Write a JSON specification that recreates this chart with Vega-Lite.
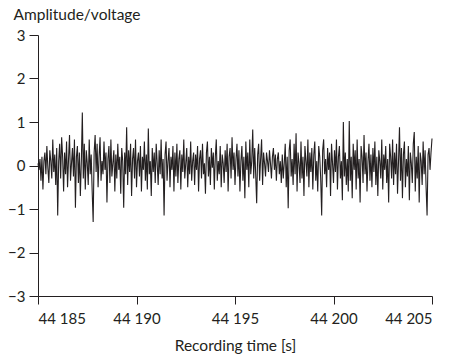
{
"$schema": "https://vega.github.io/schema/vega-lite/v6.json",
"width": 394,
"height": 261,
"autosize": "none",
"padding": {"left": 38, "top": 35, "right": 24, "bottom": 58},
"config": {
  "view": {"stroke": null},
  "font": "Lato",
  "axis": {"labelFont": "Lato", "titleFont": "Lato", "labelFontSize": 15, "titleFontSize": 15.5, "labelColor": "#231f20", "titleColor": "#231f20", "domainColor": "#231f20", "tickColor": "#231f20", "grid": false, "titleFontWeight": "normal"}
},
"data": {"values": [
{"t":44185.00,"v":0.05},{"t":44185.05,"v":-0.1},{"t":44185.10,"v":0.15},{"t":44185.15,"v":-0.35},{"t":44185.20,"v":0.2},{"t":44185.25,"v":-0.55},{"t":44185.30,"v":0.1},{"t":44185.35,"v":0.3},{"t":44185.40,"v":-0.2},{"t":44185.45,"v":0.45},{"t":44185.50,"v":-0.05},{"t":44185.55,"v":-0.4},{"t":44185.60,"v":0.35},{"t":44185.65,"v":0.1},{"t":44185.70,"v":-0.3},{"t":44185.75,"v":0.6},{"t":44185.80,"v":-0.15},{"t":44185.85,"v":0.25},{"t":44185.90,"v":-0.45},{"t":44185.95,"v":0.4},
{"t":44186.00,"v":-1.15},{"t":44186.05,"v":0.1},{"t":44186.10,"v":0.5},{"t":44186.15,"v":-0.3},{"t":44186.20,"v":0.65},{"t":44186.25,"v":0.2},{"t":44186.30,"v":-0.6},{"t":44186.35,"v":0.3},{"t":44186.40,"v":-0.2},{"t":44186.45,"v":0.55},{"t":44186.50,"v":-0.5},{"t":44186.55,"v":0.15},{"t":44186.60,"v":0.7},{"t":44186.65,"v":-0.35},{"t":44186.70,"v":0.05},{"t":44186.75,"v":0.4},{"t":44186.80,"v":-0.25},{"t":44186.85,"v":0.6},{"t":44186.90,"v":-0.97},{"t":44186.95,"v":0.2},
{"t":44187.00,"v":0.45},{"t":44187.05,"v":-0.4},{"t":44187.10,"v":0.3},{"t":44187.15,"v":-0.7},{"t":44187.20,"v":0.1},{"t":44187.25,"v":1.22},{"t":44187.30,"v":-0.3},{"t":44187.35,"v":0.5},{"t":44187.40,"v":-0.55},{"t":44187.45,"v":0.35},{"t":44187.50,"v":0.05},{"t":44187.55,"v":-0.45},{"t":44187.60,"v":0.6},{"t":44187.65,"v":-0.2},{"t":44187.70,"v":0.25},{"t":44187.75,"v":-0.6},{"t":44187.80,"v":-1.3},{"t":44187.85,"v":0.3},{"t":44187.90,"v":0.7},{"t":44187.95,"v":-0.15},
{"t":44188.00,"v":0.5},{"t":44188.05,"v":-0.5},{"t":44188.10,"v":0.2},{"t":44188.15,"v":0.65},{"t":44188.20,"v":-0.35},{"t":44188.25,"v":0.1},{"t":44188.30,"v":-0.2},{"t":44188.35,"v":0.55},{"t":44188.40,"v":-0.1},{"t":44188.45,"v":0.3},{"t":44188.50,"v":-0.85},{"t":44188.55,"v":0.15},{"t":44188.60,"v":0.45},{"t":44188.65,"v":-0.4},{"t":44188.70,"v":0.6},{"t":44188.75,"v":-0.25},{"t":44188.80,"v":0.05},{"t":44188.85,"v":0.35},{"t":44188.90,"v":-0.6},{"t":44188.95,"v":0.25},
{"t":44189.00,"v":-0.3},{"t":44189.05,"v":0.5},{"t":44189.10,"v":-0.1},{"t":44189.15,"v":0.2},{"t":44189.20,"v":-0.65},{"t":44189.25,"v":0.4},{"t":44189.30,"v":0.1},{"t":44189.35,"v":-0.97},{"t":44189.40,"v":0.3},{"t":44189.45,"v":-0.2},{"t":44189.50,"v":0.88},{"t":44189.55,"v":-0.45},{"t":44189.60,"v":0.35},{"t":44189.65,"v":-0.15},{"t":44189.70,"v":0.5},{"t":44189.75,"v":-0.7},{"t":44189.80,"v":0.15},{"t":44189.85,"v":0.4},{"t":44189.90,"v":-0.3},{"t":44189.95,"v":0.6},
{"t":44190.00,"v":-0.5},{"t":44190.05,"v":0.1},{"t":44190.10,"v":0.3},{"t":44190.15,"v":-0.25},{"t":44190.20,"v":0.45},{"t":44190.25,"v":-0.6},{"t":44190.30,"v":0.2},{"t":44190.35,"v":-0.1},{"t":44190.40,"v":0.55},{"t":44190.45,"v":-0.35},{"t":44190.50,"v":0.25},{"t":44190.55,"v":-0.55},{"t":44190.60,"v":0.85},{"t":44190.65,"v":-0.2},{"t":44190.70,"v":0.1},{"t":44190.75,"v":-0.7},{"t":44190.80,"v":0.4},{"t":44190.85,"v":-0.15},{"t":44190.90,"v":0.3},{"t":44190.95,"v":-0.4},
{"t":44191.00,"v":0.5},{"t":44191.05,"v":0.05},{"t":44191.10,"v":-0.45},{"t":44191.15,"v":0.35},{"t":44191.20,"v":-0.2},{"t":44191.25,"v":0.6},{"t":44191.30,"v":-0.3},{"t":44191.35,"v":0.15},{"t":44191.40,"v":-1.15},{"t":44191.45,"v":0.25},{"t":44191.50,"v":0.55},{"t":44191.55,"v":-0.35},{"t":44191.60,"v":0.1},{"t":44191.65,"v":0.4},{"t":44191.70,"v":-0.5},{"t":44191.75,"v":0.2},{"t":44191.80,"v":-0.1},{"t":44191.85,"v":0.45},{"t":44191.90,"v":-0.6},{"t":44191.95,"v":0.3},
{"t":44192.00,"v":-0.25},{"t":44192.05,"v":0.5},{"t":44192.10,"v":-0.4},{"t":44192.15,"v":0.15},{"t":44192.20,"v":0.35},{"t":44192.25,"v":-0.55},{"t":44192.30,"v":0.25},{"t":44192.35,"v":-0.15},{"t":44192.40,"v":0.6},{"t":44192.45,"v":-0.3},{"t":44192.50,"v":0.05},{"t":44192.55,"v":0.4},{"t":44192.60,"v":-0.5},{"t":44192.65,"v":0.2},{"t":44192.70,"v":-0.2},{"t":44192.75,"v":0.55},{"t":44192.80,"v":-0.35},{"t":44192.85,"v":0.1},{"t":44192.90,"v":0.3},{"t":44192.95,"v":-0.45},
{"t":44193.00,"v":0.25},{"t":44193.05,"v":-0.1},{"t":44193.10,"v":0.45},{"t":44193.15,"v":-0.6},{"t":44193.20,"v":0.15},{"t":44193.25,"v":0.35},{"t":44193.30,"v":-0.3},{"t":44193.35,"v":0.5},{"t":44193.40,"v":-0.2},{"t":44193.45,"v":0.05},{"t":44193.50,"v":-0.65},{"t":44193.55,"v":0.3},{"t":44193.60,"v":0.55},{"t":44193.65,"v":-0.25},{"t":44193.70,"v":0.2},{"t":44193.75,"v":-0.45},{"t":44193.80,"v":0.4},{"t":44193.85,"v":-0.05},{"t":44193.90,"v":0.3},{"t":44193.95,"v":-0.55},
{"t":44194.00,"v":0.2},{"t":44194.05,"v":0.6},{"t":44194.10,"v":-0.35},{"t":44194.15,"v":0.1},{"t":44194.20,"v":-0.2},{"t":44194.25,"v":0.45},{"t":44194.30,"v":-0.5},{"t":44194.35,"v":0.25},{"t":44194.40,"v":0.05},{"t":44194.45,"v":-0.4},{"t":44194.50,"v":0.35},{"t":44194.55,"v":-0.15},{"t":44194.60,"v":0.5},{"t":44194.65,"v":-0.6},{"t":44194.70,"v":0.2},{"t":44194.75,"v":0.4},{"t":44194.80,"v":-0.3},{"t":44194.85,"v":0.65},{"t":44194.90,"v":-0.1},{"t":44194.95,"v":0.3},
{"t":44195.00,"v":-0.45},{"t":44195.05,"v":0.15},{"t":44195.10,"v":0.5},{"t":44195.15,"v":-0.25},{"t":44195.20,"v":0.35},{"t":44195.25,"v":-0.6},{"t":44195.30,"v":0.1},{"t":44195.35,"v":0.45},{"t":44195.40,"v":-0.35},{"t":44195.45,"v":0.2},{"t":44195.50,"v":-0.75},{"t":44195.55,"v":0.55},{"t":44195.60,"v":-0.1},{"t":44195.65,"v":0.3},{"t":44195.70,"v":-0.5},{"t":44195.75,"v":0.6},{"t":44195.80,"v":-0.2},{"t":44195.85,"v":0.1},{"t":44195.90,"v":0.83},{"t":44195.95,"v":-0.3},
{"t":44196.00,"v":0.4},{"t":44196.05,"v":-0.2},{"t":44196.10,"v":-0.87},{"t":44196.15,"v":0.25},{"t":44196.20,"v":0.5},{"t":44196.25,"v":-0.35},{"t":44196.30,"v":0.15},{"t":44196.35,"v":0.6},{"t":44196.40,"v":-0.45},{"t":44196.45,"v":0.3},{"t":44196.50,"v":0.05},{"t":44196.55,"v":-0.25},{"t":44196.60,"v":0.3},{"t":44196.65,"v":0.1},{"t":44196.70,"v":-0.15},{"t":44196.75,"v":0.35},{"t":44196.80,"v":0.05},{"t":44196.85,"v":-0.3},{"t":44196.90,"v":0.2},{"t":44196.95,"v":0.4},
{"t":44197.00,"v":-0.1},{"t":44197.05,"v":0.25},{"t":44197.10,"v":-0.35},{"t":44197.15,"v":0.15},{"t":44197.20,"v":0.3},{"t":44197.25,"v":-0.2},{"t":44197.30,"v":0.1},{"t":44197.35,"v":-0.4},{"t":44197.40,"v":0.25},{"t":44197.45,"v":-0.3},{"t":44197.50,"v":0.05},{"t":44197.55,"v":0.5},{"t":44197.60,"v":-0.5},{"t":44197.65,"v":0.2},{"t":44197.70,"v":-0.98},{"t":44197.75,"v":0.35},{"t":44197.80,"v":0.6},{"t":44197.85,"v":-0.25},{"t":44197.90,"v":0.15},{"t":44197.95,"v":-0.45},
{"t":44198.00,"v":0.5},{"t":44198.05,"v":-0.2},{"t":44198.10,"v":0.74},{"t":44198.15,"v":-0.6},{"t":44198.20,"v":0.3},{"t":44198.25,"v":0.05},{"t":44198.30,"v":-0.4},{"t":44198.35,"v":0.55},{"t":44198.40,"v":-0.3},{"t":44198.45,"v":0.2},{"t":44198.50,"v":-0.7},{"t":44198.55,"v":0.45},{"t":44198.60,"v":0.1},{"t":44198.65,"v":-0.25},{"t":44198.70,"v":0.6},{"t":44198.75,"v":-0.5},{"t":44198.80,"v":0.3},{"t":44198.85,"v":-0.15},{"t":44198.90,"v":0.4},{"t":44198.95,"v":-0.55},
{"t":44199.00,"v":0.25},{"t":44199.05,"v":0.55},{"t":44199.10,"v":-0.35},{"t":44199.15,"v":0.1},{"t":44199.20,"v":-0.6},{"t":44199.25,"v":0.45},{"t":44199.30,"v":0.2},{"t":44199.35,"v":-0.3},{"t":44199.40,"v":-1.15},{"t":44199.45,"v":0.35},{"t":44199.50,"v":0.6},{"t":44199.55,"v":-0.2},{"t":44199.60,"v":0.15},{"t":44199.65,"v":-0.5},{"t":44199.70,"v":0.4},{"t":44199.75,"v":-0.1},{"t":44199.80,"v":0.3},{"t":44199.85,"v":-0.7},{"t":44199.90,"v":0.5},{"t":44199.95,"v":0.05},
{"t":44200.00,"v":-0.4},{"t":44200.05,"v":0.35},{"t":44200.10,"v":-0.15},{"t":44200.15,"v":0.6},{"t":44200.20,"v":-0.55},{"t":44200.25,"v":0.2},{"t":44200.30,"v":0.45},{"t":44200.35,"v":-0.3},{"t":44200.40,"v":0.1},{"t":44200.45,"v":-0.8},{"t":44200.50,"v":1.0},{"t":44200.55,"v":-0.25},{"t":44200.60,"v":0.3},{"t":44200.65,"v":-0.45},{"t":44200.70,"v":0.15},{"t":44200.75,"v":-0.6},{"t":44200.80,"v":1.02},{"t":44200.85,"v":-0.35},{"t":44200.90,"v":0.2},{"t":44200.95,"v":-0.75},
{"t":44201.00,"v":0.5},{"t":44201.05,"v":-0.1},{"t":44201.10,"v":0.35},{"t":44201.15,"v":-0.55},{"t":44201.20,"v":0.6},{"t":44201.25,"v":-0.3},{"t":44201.30,"v":0.15},{"t":44201.35,"v":-0.85},{"t":44201.40,"v":0.45},{"t":44201.45,"v":0.2},{"t":44201.50,"v":-0.4},{"t":44201.55,"v":0.7},{"t":44201.60,"v":-0.2},{"t":44201.65,"v":0.3},{"t":44201.70,"v":-0.6},{"t":44201.75,"v":0.1},{"t":44201.80,"v":0.5},{"t":44201.85,"v":-0.35},{"t":44201.90,"v":0.25},{"t":44201.95,"v":-0.5},
{"t":44202.00,"v":0.4},{"t":44202.05,"v":-0.15},{"t":44202.10,"v":0.55},{"t":44202.15,"v":-0.45},{"t":44202.20,"v":0.2},{"t":44202.25,"v":-0.7},{"t":44202.30,"v":0.35},{"t":44202.35,"v":0.1},{"t":44202.40,"v":-0.3},{"t":44202.45,"v":0.6},{"t":44202.50,"v":-0.55},{"t":44202.55,"v":0.25},{"t":44202.60,"v":-0.1},{"t":44202.65,"v":0.45},{"t":44202.70,"v":-0.4},{"t":44202.75,"v":0.15},{"t":44202.80,"v":-0.85},{"t":44202.85,"v":0.5},{"t":44202.90,"v":0.2},{"t":44202.95,"v":-0.3},
{"t":44203.00,"v":0.6},{"t":44203.05,"v":-0.45},{"t":44203.10,"v":0.3},{"t":44203.15,"v":-0.2},{"t":44203.20,"v":0.5},{"t":44203.25,"v":-0.65},{"t":44203.30,"v":0.1},{"t":44203.35,"v":0.88},{"t":44203.40,"v":-0.35},{"t":44203.45,"v":0.4},{"t":44203.50,"v":-0.75},{"t":44203.55,"v":0.25},{"t":44203.60,"v":0.55},{"t":44203.65,"v":-0.5},{"t":44203.70,"v":0.15},{"t":44203.75,"v":-0.25},{"t":44203.80,"v":0.45},{"t":44203.85,"v":-0.8},{"t":44203.90,"v":0.3},{"t":44203.95,"v":0.05},
{"t":44204.00,"v":-0.4},{"t":44204.05,"v":0.5},{"t":44204.10,"v":0.77},{"t":44204.15,"v":-0.6},{"t":44204.20,"v":0.2},{"t":44204.25,"v":-0.3},{"t":44204.30,"v":0.45},{"t":44204.35,"v":-0.85},{"t":44204.40,"v":0.3},{"t":44204.45,"v":0.1},{"t":44204.50,"v":-0.45},{"t":44204.55,"v":0.55},{"t":44204.60,"v":-0.2},{"t":44204.65,"v":0.35},{"t":44204.70,"v":-0.5},{"t":44204.75,"v":-1.15},{"t":44204.80,"v":0.25},{"t":44204.85,"v":0.4},{"t":44204.90,"v":-0.1},{"t":44204.95,"v":0.3},
{"t":44205.00,"v":0.62}
]},
"mark": {"type": "line", "color": "#231f20", "strokeWidth": 1.1},
"encoding": {
  "x": {"field": "t", "type": "quantitative",
        "scale": {"domain": [44185, 44205], "nice": false, "zero": false},
        "axis": {"values": [44185, 44190, 44195, 44200, 44205], "labelExpr": "replace(format(datum.value, ','), ',', ' ')", "title": "Recording time [s]", "tickSize": 8, "labelPadding": 7, "titlePadding": 12}},
  "y": {"field": "v", "type": "quantitative",
        "scale": {"domain": [-3, 3], "nice": false},
        "axis": {"values": [-3, -2, -1, 0, 1, 2, 3], "title": "Amplitude/voltage", "titleAngle": 0, "titleAlign": "left", "titleBaseline": "alphabetic", "titleX": -25, "titleY": -16, "tickSize": 9, "labelPadding": 4}}
}
}
